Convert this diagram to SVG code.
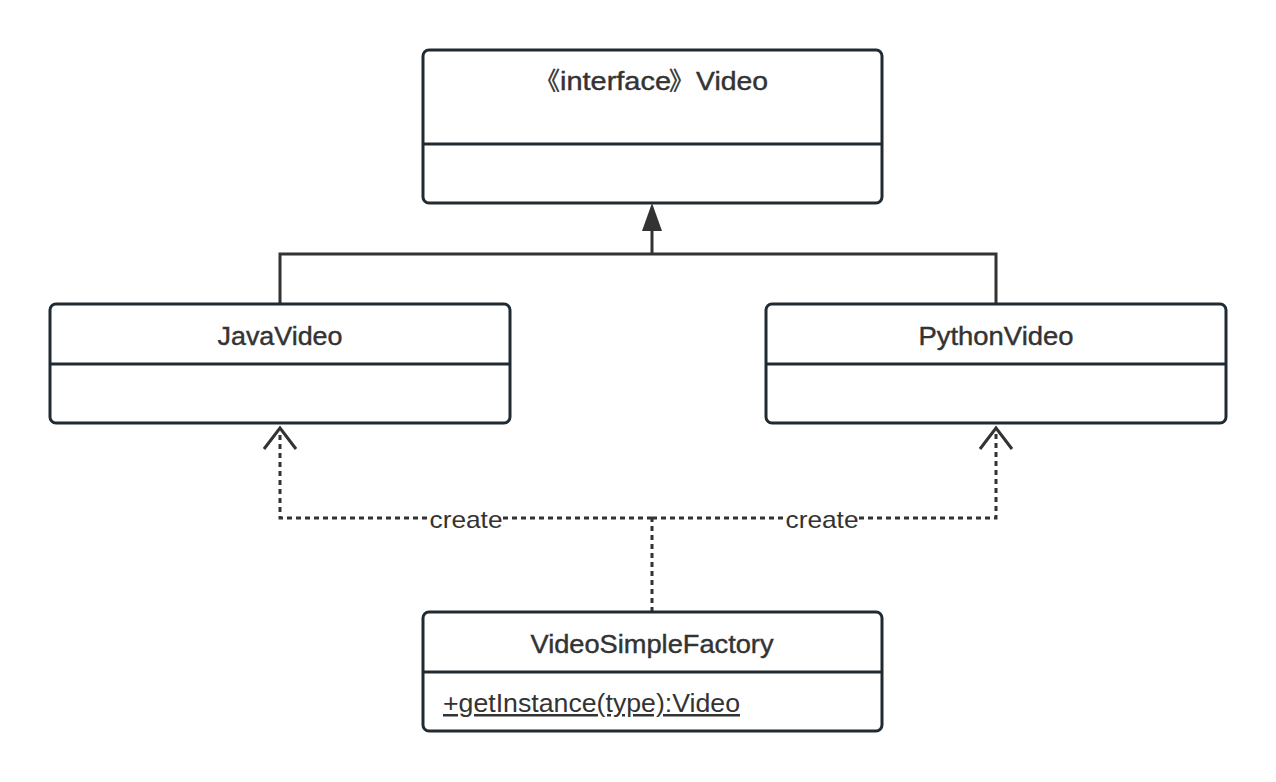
<svg xmlns="http://www.w3.org/2000/svg" width="1276" height="782" viewBox="0 0 1276 782">
<style>
.box{fill:#fff;stroke:#1f2a33;stroke-width:3}
.div{stroke:#1f2a33;stroke-width:3}
.t{font-family:"Liberation Sans","Noto Sans CJK SC",sans-serif;font-size:25px;fill:#333;stroke:#333;stroke-width:0.4;text-anchor:middle}
.s{text-anchor:start}
.m{font-family:"Liberation Sans",sans-serif;font-size:25px;fill:#333;text-decoration:underline}
.lbl{font-family:"Liberation Sans",sans-serif;font-size:24px;fill:#333;text-anchor:middle}
.solid{fill:none;stroke:#333;stroke-width:3}
.dash{fill:none;stroke:#333;stroke-width:3;stroke-dasharray:5 4}
</style>
<rect width="1276" height="782" fill="#fff"/>
<g id="connectors">
<path class="solid" d="M280,304 V254 H996 V304"/>
<path class="solid" d="M652,254 V228"/>
<polygon points="652,203 642,231 662,231" fill="#333"/>
<path class="dash" d="M652,612 V518"/>
<path class="dash" d="M652,518 H280 V432"/>
<path class="dash" d="M652,518 H996 V432"/>
<polyline class="solid" points="264,449 280,428 296,449"/>
<polyline class="solid" points="980,449 996,428 1012,449"/>
<rect x="430" y="506" width="73" height="26" fill="#fff"/>
<rect x="786" y="506" width="73" height="26" fill="#fff"/>
<text class="lbl" x="466" y="528" textLength="73" lengthAdjust="spacingAndGlyphs">create</text>
<text class="lbl" x="822" y="528" textLength="73" lengthAdjust="spacingAndGlyphs">create</text>
</g>
<g id="video">
<rect class="box" x="423" y="50" width="459" height="153" rx="6"/>
<line class="div" x1="423" y1="144" x2="882" y2="144"/>
<text class="t s" y="90"><tspan x="535">《</tspan><tspan x="560" textLength="111" lengthAdjust="spacingAndGlyphs">interface</tspan><tspan x="669">》</tspan><tspan x="696" textLength="72" lengthAdjust="spacingAndGlyphs">Video</tspan></text>
</g>
<g id="javavideo">
<rect class="box" x="50" y="304" width="460" height="119" rx="6"/>
<line class="div" x1="50" y1="364" x2="510" y2="364"/>
<text class="t" x="280" y="345" textLength="125" lengthAdjust="spacingAndGlyphs">JavaVideo</text>
</g>
<g id="pythonvideo">
<rect class="box" x="766" y="304" width="460" height="119" rx="6"/>
<line class="div" x1="766" y1="364" x2="1226" y2="364"/>
<text class="t" x="996" y="345" textLength="155" lengthAdjust="spacingAndGlyphs">PythonVideo</text>
</g>
<g id="factory">
<rect class="box" x="423" y="612" width="459" height="119" rx="6"/>
<line class="div" x1="423" y1="672" x2="882" y2="672"/>
<text class="t" x="652" y="653" textLength="243" lengthAdjust="spacingAndGlyphs">VideoSimpleFactory</text>
<text class="m" x="443" y="712" textLength="297" lengthAdjust="spacingAndGlyphs">+getInstance(type):Video</text>
</g>
</svg>
